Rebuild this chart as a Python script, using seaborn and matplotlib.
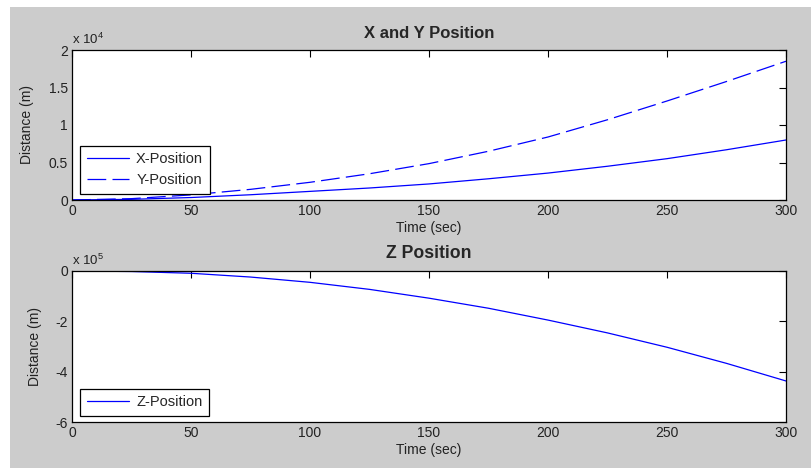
import numpy as np
import pandas as pd
import seaborn as sns
import matplotlib
matplotlib.use("Agg")
import matplotlib.pyplot as plt
from matplotlib.patches import Rectangle

# ---- data ----
time_s = [0, 25, 50, 75, 100, 125, 150, 175, 200, 225, 250, 275, 300]
x_pos = [0, 90, 330, 700, 1150, 1600, 2140, 2830, 3590, 4500, 5510, 6700, 8000]
y_pos = [0, 180, 680, 1420, 2360, 3500, 4850, 6500, 8400, 10700, 13200, 15800, 18500]
z_pos = [0, -2000, -9000, -24000, -45000, -73000, -108000, -148000, -195000,
         -246000, -303000, -367000, -437000]
x_ticks = [0, 50, 100, 150, 200, 250, 300]
top_yticks = [0, 5000, 10000, 15000, 20000]
top_yticklabels = ["0", "0.5", "1", "1.5", "2"]
bot_yticks = [0, -200000, -400000, -600000]
bot_yticklabels = ["0", "-2", "-4", "-6"]

sns.set_style("white")
plt.rcParams["font.family"] = ["Liberation Sans", "DejaVu Sans"]
plt.rcParams["mathtext.default"] = "regular"

W, H = 812, 468
fig = plt.figure(figsize=(W / 100, H / 100), dpi=100, facecolor="white")
fig.patches.append(Rectangle((10 / W, 0), 1 - 10 / W, 1 - 7 / H,
                             transform=fig.transFigure, facecolor="#cccccc",
                             edgecolor="none", zorder=-10))

def px_axes(left, top, right, bottom):
    return fig.add_axes([left / W, 1 - bottom / H, (right - left) / W, (bottom - top) / H])

ax1 = px_axes(72, 50, 786, 200)
ax2 = px_axes(72, 271, 786, 422)

df = pd.DataFrame({"t": time_s, "X": x_pos, "Y": y_pos, "Z": z_pos})

sns.lineplot(data=df, x="t", y="X", ax=ax1, color="blue", lw=0.9, label="X-Position")
sns.lineplot(data=df, x="t", y="Y", ax=ax1, color="blue", lw=0.9, label="Y-Position")
ax1.lines[1].set_dashes((15, 5))
sns.lineplot(data=df, x="t", y="Z", ax=ax2, color="blue", lw=0.9, label="Z-Position")

def style(ax, yticks, ylabels, ylim, title, tsize, exp, ylab_x):
    ax.set_facecolor("white")
    ax.set_xlim(0, 300)
    ax.set_ylim(*ylim)
    ax.set_xticks(x_ticks)
    ax.set_xticklabels([str(v) for v in x_ticks])
    ax.set_yticks(yticks)
    ax.set_yticklabels(ylabels)
    ax.tick_params(direction="in", length=5, width=0.8, top=True, right=True,
                   labelsize=10, colors="black", labelcolor="#222222", pad=3)
    for s in ax.spines.values():
        s.set_visible(True)
        s.set_color("black")
        s.set_linewidth(0.9)
    ax.set_xlabel("Time (sec)", fontsize=10, labelpad=2, color="#222222")
    ax.set_ylabel("Distance (m)", fontsize=10, color="#222222")
    ax.yaxis.set_label_coords(ylab_x, 0.5)
    ax.set_title(title, fontsize=tsize, fontweight="bold", pad=9)
    ax.text(0.0, 1.02, "x 10$^{%d}$" % exp, transform=ax.transAxes,
            fontsize=9.5, ha="left", va="bottom", color="#222222")

style(ax1, top_yticks, top_yticklabels, (0, 20000), "X and Y Position", 12, 4, -0.053)
style(ax2, bot_yticks, bot_yticklabels, (-600000, 0), "Z Position", 12.7, 5, -0.042)

for ax in (ax1, ax2):
    bx = (80 - 72) / 714
    leg = ax.legend(loc="lower left", bbox_to_anchor=(bx, 0.04), fontsize=10.5,
                    frameon=True, fancybox=False, handlelength=2.9,
                    borderpad=0.45, labelspacing=0.5, handletextpad=0.5,
                    borderaxespad=0)
    leg.get_frame().set_edgecolor("black")
    leg.get_frame().set_linewidth(0.9)
    leg.get_frame().set_alpha(1)

fig.savefig("out.png", dpi=100, facecolor=fig.get_facecolor())
